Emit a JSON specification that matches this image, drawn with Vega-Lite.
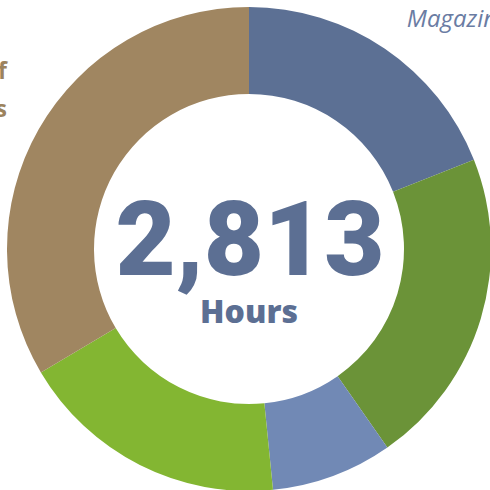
{
  "$schema": "https://vega.github.io/schema/vega-lite/v6.json",
  "width": 498,
  "height": 498,
  "autosize": {"type": "none"},
  "padding": 0,
  "background": "white",
  "view": {"stroke": null},
  "datasets": {
    "segments": [
      {"category": "Magazines", "rank": 1, "hours": 534, "label": "Magazines", "side": "right"},
      {"category": "Newspapers", "rank": 2, "hours": 600, "label": "Newspapers", "side": "none"},
      {"category": "Comics", "rank": 3, "hours": 228, "label": "Comics", "side": "none"},
      {"category": "E-books", "rank": 4, "hours": 508, "label": "E-books", "side": "none"},
      {"category": "Works of fiction", "rank": 5, "hours": 943, "label": ["Works of", "Audiobooks"], "side": "left"}
    ],
    "center": [{"total": "2,813", "unit": "Hours"}]
  },
  "layer": [
    {
      "data": {"name": "segments"},
      "encoding": {
        "theta": {"field": "hours", "type": "quantitative", "stack": true},
        "order": {"field": "rank", "type": "quantitative"}
      },
      "layer": [
        {
          "mark": {"type": "arc", "innerRadius": 155, "outerRadius": 242, "stroke": null},
          "encoding": {
            "color": {
              "field": "category",
              "type": "nominal",
              "sort": ["Magazines", "Newspapers", "Comics", "E-books", "Works of fiction"],
              "scale": {
                "domain": ["Magazines", "Newspapers", "Comics", "E-books", "Works of fiction"],
                "range": ["#5c7094", "#6b9338", "#7189b5", "#83b632", "#a08661"]
              },
              "legend": null
            }
          }
        },
        {
          "mark": {"type": "text", "radius": 281, "align": "left", "baseline": "middle", "dy": 3, "font": "Open Sans", "fontStyle": "italic", "fontSize": 24, "color": "#6a7ca3"},
          "encoding": {"text": {"condition": {"test": "datum.side == 'right'", "field": "label"}, "value": ""}}
        },
        {
          "mark": {"type": "text", "radius": 281, "align": "right", "baseline": "bottom", "dy": -26, "dx": 2, "lineHeight": 38, "font": "Open Sans", "fontWeight": "bold", "fontSize": 23, "color": "#9c835e"},
          "encoding": {"text": {"condition": {"test": "datum.side == 'left'", "field": "label"}, "value": ""}}
        }
      ]
    },
    {
      "data": {"name": "center"},
      "layer": [
        {
          "mark": {"type": "text", "align": "center", "baseline": "alphabetic", "dy": 26, "dx": 1, "font": "Roboto", "fontWeight": 900, "fontSize": 104, "color": "#5c6f93"},
          "encoding": {"text": {"field": "total"}}
        },
        {
          "mark": {"type": "text", "align": "center", "baseline": "alphabetic", "dy": 74, "font": "Open Sans", "fontWeight": 800, "fontSize": 32, "color": "#5c6f93"},
          "encoding": {"text": {"field": "unit"}}
        }
      ]
    }
  ]
}
